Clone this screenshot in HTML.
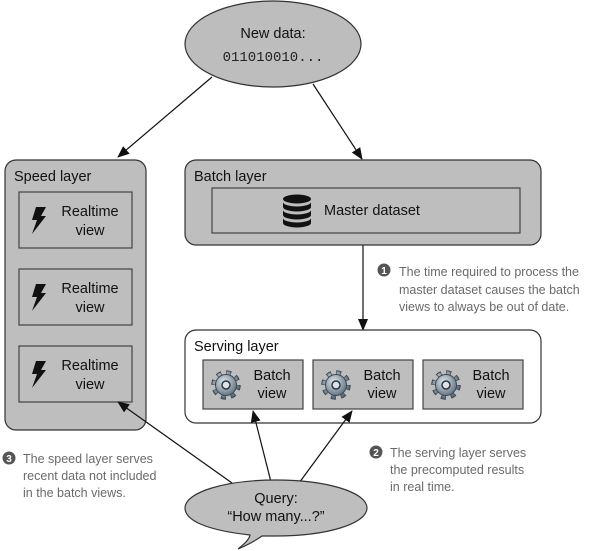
<!DOCTYPE html>
<html><head><meta charset="utf-8"><style>
body{margin:0;background:#fff}
svg{display:block}
text{font-family:"Liberation Sans",sans-serif}
.n{fill:#6a6a6a;font-size:12.5px}
.l{fill:#111;font-size:14.5px}
</style></head><body>
<svg width="590" height="551" viewBox="0 0 590 551" xmlns="http://www.w3.org/2000/svg">
<defs>
<marker id="a" markerWidth="12" markerHeight="10" refX="11" refY="5" orient="auto" markerUnits="userSpaceOnUse">
<path d="M0,0 L12,5 L0,10 Z" fill="#111"/></marker>
<radialGradient id="g" cx="0.4" cy="0.35" r="0.7"><stop offset="0" stop-color="#dfe6ec"/><stop offset="1" stop-color="#5d6f7e"/></radialGradient>
<g id="gear">
<circle r="11.5" fill="none" stroke="#3a4550" stroke-width="6.5" stroke-dasharray="4.5 4.5"/>
<circle r="11.5" fill="none" stroke="url(#g)" stroke-width="4.5" stroke-dasharray="3.2 5.8" stroke-dashoffset="-0.6"/>
<circle r="10.5" fill="url(#g)" stroke="#3a4550" stroke-width="1"/>
<circle r="4" fill="#dde3e8" stroke="#2d3640" stroke-width="1.5"/>
</g>
<path id="bolt" d="M5,0 L15,0 L10,9 L15,9 L1,27 L6,13 L1,13 Z" fill="#111"/>
</defs>

<!-- top ellipse -->
<ellipse cx="273" cy="44" rx="88" ry="43" fill="#bdbdbd" stroke="#333" stroke-width="1.2"/>
<text x="273" y="38" text-anchor="middle" class="l">New data:</text>
<text x="273" y="61" text-anchor="middle" style="font-family:'Liberation Mono',monospace;font-size:14px" fill="#222">011010010...</text>

<!-- arrows -->
<line x1="212" y1="77" x2="118" y2="157" stroke="#111" stroke-width="1.2" marker-end="url(#a)"/>
<line x1="313" y1="84" x2="362" y2="159" stroke="#111" stroke-width="1.2" marker-end="url(#a)"/>
<line x1="363" y1="245" x2="363" y2="330" stroke="#111" stroke-width="1.2" marker-end="url(#a)"/>

<!-- speed layer -->
<rect x="5" y="160" width="141" height="270" rx="11" fill="#bebebe" stroke="#333" stroke-width="1.2"/>
<text x="14" y="181" class="l">Speed layer</text>
<g>
<rect x="19" y="192" width="113" height="56" fill="#bebebe" stroke="#444" stroke-width="1.2"/>
<use href="#bolt" x="31" y="207"/>
<text x="90" y="216" text-anchor="middle" class="l">Realtime</text>
<text x="90" y="235" text-anchor="middle" class="l">view</text>
</g>
<g>
<rect x="19" y="269" width="113" height="56" fill="#bebebe" stroke="#444" stroke-width="1.2"/>
<use href="#bolt" x="31" y="284"/>
<text x="90" y="293" text-anchor="middle" class="l">Realtime</text>
<text x="90" y="312" text-anchor="middle" class="l">view</text>
</g>
<g>
<rect x="19" y="346" width="113" height="56" fill="#bebebe" stroke="#444" stroke-width="1.2"/>
<use href="#bolt" x="31" y="361"/>
<text x="90" y="370" text-anchor="middle" class="l">Realtime</text>
<text x="90" y="389" text-anchor="middle" class="l">view</text>
</g>

<!-- batch layer -->
<rect x="185" y="160" width="356" height="85" rx="11" fill="#bebebe" stroke="#333" stroke-width="1.2"/>
<text x="194" y="181" class="l">Batch layer</text>
<rect x="212" y="188" width="308" height="45" fill="#bebebe" stroke="#444" stroke-width="1.2"/>
<g fill="#111">
<ellipse cx="297" cy="199" rx="14" ry="4.5"/>
<path d="M283,202 v5 a14,4.5 0 0 0 28,0 v-5 a14,4.5 0 0 1 -28,0 Z"/>
<path d="M283,210 v5 a14,4.5 0 0 0 28,0 v-5 a14,4.5 0 0 1 -28,0 Z"/>
<path d="M283,218 v5 a14,4.5 0 0 0 28,0 v-5 a14,4.5 0 0 1 -28,0 Z"/>
</g>
<text x="324" y="215" class="l">Master dataset</text>

<!-- note 1 -->
<circle cx="384" cy="270" r="6.5" fill="#555"/>
<text x="384" y="274" text-anchor="middle" fill="#fff" style="font-size:10px;font-weight:bold">1</text>
<text x="399" y="276" class="n">The time required to process the</text>
<text x="399" y="294" class="n">master dataset causes the batch</text>
<text x="399" y="311" class="n">views to always be out of date.</text>

<!-- serving layer -->
<rect x="185" y="330" width="356" height="93" rx="11" fill="#fff" stroke="#333" stroke-width="1.2"/>
<text x="194" y="351" class="l">Serving layer</text>
<g>
<rect x="203" y="360" width="100" height="49" fill="#bebebe" stroke="#444" stroke-width="1.2"/>
<use href="#gear" x="226" y="385"/>
<text x="272" y="380" text-anchor="middle" class="l">Batch</text>
<text x="272" y="398" text-anchor="middle" class="l">view</text>
</g>
<g>
<rect x="313" y="360" width="100" height="49" fill="#bebebe" stroke="#444" stroke-width="1.2"/>
<use href="#gear" x="336" y="385"/>
<text x="382" y="380" text-anchor="middle" class="l">Batch</text>
<text x="382" y="398" text-anchor="middle" class="l">view</text>
</g>
<g>
<rect x="423" y="360" width="100" height="49" fill="#bebebe" stroke="#444" stroke-width="1.2"/>
<use href="#gear" x="446" y="385"/>
<text x="491" y="380" text-anchor="middle" class="l">Batch</text>
<text x="491" y="398" text-anchor="middle" class="l">view</text>
</g>

<!-- query arrows -->
<line x1="232" y1="483" x2="118" y2="402" stroke="#111" stroke-width="1.2" marker-end="url(#a)"/>
<line x1="271" y1="482" x2="253" y2="411" stroke="#111" stroke-width="1.2" marker-end="url(#a)"/>
<line x1="299" y1="483" x2="352" y2="411" stroke="#111" stroke-width="1.2" marker-end="url(#a)"/>

<!-- query bubble -->
<path d="M250,535 C205,530 185,520 185,508 C185,492 226,480 276,480 C326,480 367,492 367,508 C367,524 326,536 276,536 C268,536 262,536 262,536 C255,541 245,546 238,549 C244,544 249,540 250,535 Z" fill="#bebebe" stroke="#333" stroke-width="1.2"/>
<text x="276" y="503" text-anchor="middle" class="l">Query:</text>
<text x="276" y="521" text-anchor="middle" class="l">“How many...?”</text>

<!-- note 2 -->
<circle cx="376" cy="452" r="6.5" fill="#555"/>
<text x="376" y="456" text-anchor="middle" fill="#fff" style="font-size:10px;font-weight:bold">2</text>
<text x="390" y="457" class="n">The serving layer serves</text>
<text x="390" y="474" class="n">the precomputed results</text>
<text x="390" y="491" class="n">in real time.</text>

<!-- note 3 -->
<circle cx="9" cy="458" r="6.5" fill="#555"/>
<text x="9" y="462" text-anchor="middle" fill="#fff" style="font-size:10px;font-weight:bold">3</text>
<text x="23" y="463" class="n">The speed layer serves</text>
<text x="23" y="480" class="n">recent data not included</text>
<text x="23" y="497" class="n">in the batch views.</text>
</svg>
</body></html>
